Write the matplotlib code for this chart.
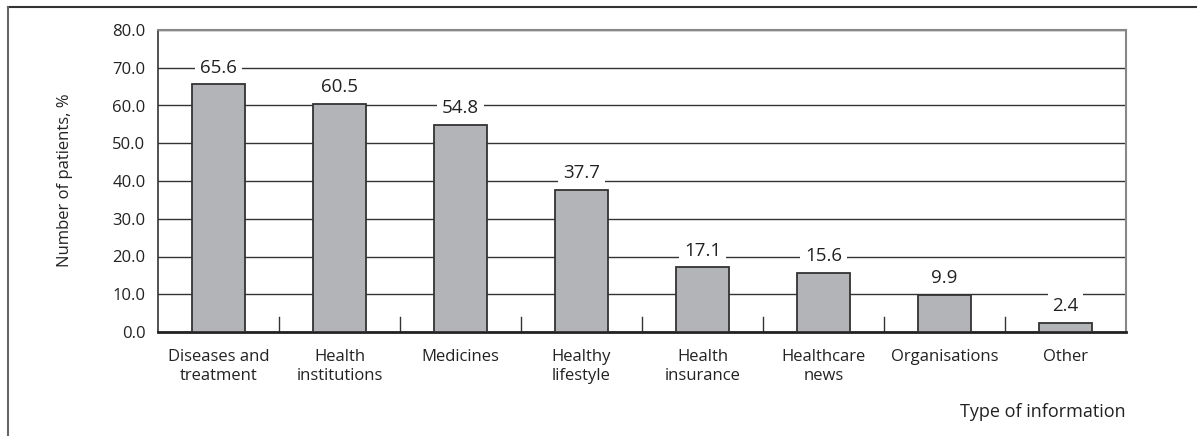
import matplotlib.pyplot as plt
import numpy as np
from matplotlib.lines import Line2D

categories = ["Diseases and\ntreatment", "Health\ninstitutions", "Medicines",
              "Healthy\nlifestyle", "Health\ninsurance", "Healthcare\nnews",
              "Organisations", "Other"]
shares = [65.6, 60.5, 54.8, 37.7, 17.1, 15.6, 9.9, 2.4]
y_ticks = [0, 10, 20, 30, 40, 50, 60, 70, 80]

plt.rcParams['font.family'] = ['Open Sans', 'DejaVu Sans']

fig = plt.figure(figsize=(11.97, 4.36), dpi=100)
ax = fig.add_axes([158 / 1197, 1 - 332 / 436, (1126 - 158) / 1197, (332 - 30) / 436])

x = np.arange(len(categories))
ax.bar(x, shares, width=0.44, color="#b3b4b8", edgecolor="#333333",
       linewidth=1.3, zorder=3)

ax.set_xlim(-0.5, len(categories) - 0.5)
ax.set_ylim(0, 80)
ax.set_yticks(y_ticks)
ax.set_yticklabels([f"{v:.1f}" for v in y_ticks], fontsize=12, color="#222222")
ax.tick_params(axis="y", length=0, pad=9)
ax.yaxis.grid(True, color="#333333", linewidth=1.0, zorder=1)

ax.set_xticks(x)
ax.set_xticklabels(categories, fontsize=12, color="#222222", linespacing=1.25)
ax.tick_params(axis="x", length=0, pad=12)

# short separators between category slots
for b in np.arange(0.5, len(categories) - 0.5, 1):
    ax.plot([b, b], [0, 4], color="#333333", linewidth=1.0, zorder=2)

for s in ["top", "right"]:
    ax.spines[s].set_color("#888888")
    ax.spines[s].set_linewidth(1.5)
ax.spines["left"].set_color("#333333")
ax.spines["left"].set_linewidth(1.2)
ax.spines["bottom"].set_color("#222222")
ax.spines["bottom"].set_linewidth(2.0)

for xi, v in zip(x, shares):
    ax.annotate(f"{v:.1f}", (xi, v), xytext=(0, 12), textcoords="offset points",
                ha="center", va="center", fontsize=13.5, color="#222222",
                bbox=dict(boxstyle="square,pad=0.25", fc="white", ec="none"),
                zorder=4)

fig.text(65 / 1197, 1 - 180 / 436, "Number of patients, %", rotation=90,
         ha="center", va="center", fontsize=12, color="#222222")
fig.text(1126 / 1197, 1 - 412 / 436, "Type of information",
         ha="right", va="center", fontsize=13, color="#222222")

# outer frame, top and left edges
fig.add_artist(Line2D([8 / 1197, 1], [1 - 7 / 436, 1 - 7 / 436],
                      transform=fig.transFigure, color="#333333", linewidth=1.5))
fig.add_artist(Line2D([8 / 1197, 8 / 1197], [0, 1 - 7 / 436],
                      transform=fig.transFigure, color="#666666", linewidth=1.5))

fig.savefig("out.png", dpi=100)
